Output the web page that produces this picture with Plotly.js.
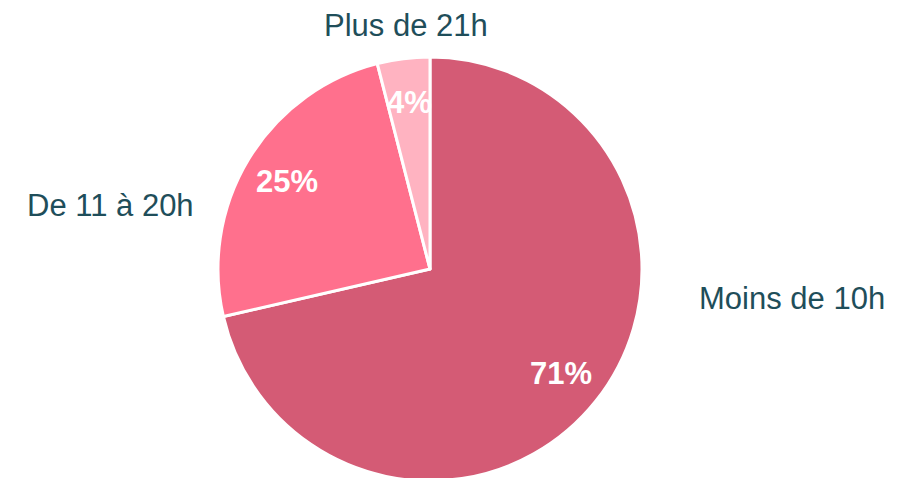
<!DOCTYPE html>
<html>
<head>
<meta charset="utf-8">
<script src="https://cdn.plot.ly/plotly-3.0.1.min.js"></script>
<style>
html,body{margin:0;padding:0;overflow:hidden;background:#fff;}
#chart{width:915px;height:482px;}
</style>
</head>
<body>
<div id="chart"></div>
<script>
const categories = ["Moins de 10h", "De 11 à 20h", "Plus de 21h"];
const values = [71.4, 24.6, 4.0];
const colors = ["#D45B75", "#FF708D", "#FFB3C1"];

const W = 915, H = 482;
const cx = 430, cy = 269, R = 212;
const FONT = "Liberation Sans, Arial, sans-serif";

const trace = {
  type: "pie",
  labels: categories,
  values: values,
  sort: false,
  direction: "clockwise",
  rotation: 0,
  marker: {colors: colors, line: {color: "#ffffff", width: 3}},
  textinfo: "none",
  hoverinfo: "label+percent",
  showlegend: false,
  domain: {x: [(cx - R) / W, (cx + R) / W], y: [(H - cy - R) / H, (H - cy + R) / H]}
};

// Category labels outside the pie
const labelPos = [[792, 298], [110, 205], [406, 25]];
const annotations = categories.map((c, i) => ({
  text: c,
  xref: "paper", yref: "paper",
  x: labelPos[i][0] / W, y: 1 - labelPos[i][1] / H,
  xanchor: "center", yanchor: "middle",
  showarrow: false,
  font: {family: FONT, size: 31, color: "#1F4E5A"}
}));

// Percentage labels inside each slice, at the slice mid-angle
const total = values.reduce((a, b) => a + b, 0);
let cum = 0;
values.forEach((v) => {
  const mid = (cum + v / 2) / total * 2 * Math.PI;
  cum += v;
  const rr = 0.79 * R;
  const px = cx + rr * Math.sin(mid);
  const py = cy - rr * Math.cos(mid);
  annotations.push({
    text: "<b>" + Math.round(v / total * 100) + "%</b>",
    xref: "paper", yref: "paper",
    x: px / W, y: 1 - py / H,
    xanchor: "center", yanchor: "middle",
    showarrow: false,
    font: {family: FONT, size: 31, color: "#ffffff"}
  });
});

const layout = {
  width: W, height: H,
  margin: {l: 0, r: 0, t: 0, b: 0},
  paper_bgcolor: "#ffffff",
  plot_bgcolor: "#ffffff",
  annotations: annotations,
  showlegend: false
};

Plotly.newPlot("chart", [trace], layout, {displayModeBar: false, staticPlot: true});
</script>
</body>
</html>
